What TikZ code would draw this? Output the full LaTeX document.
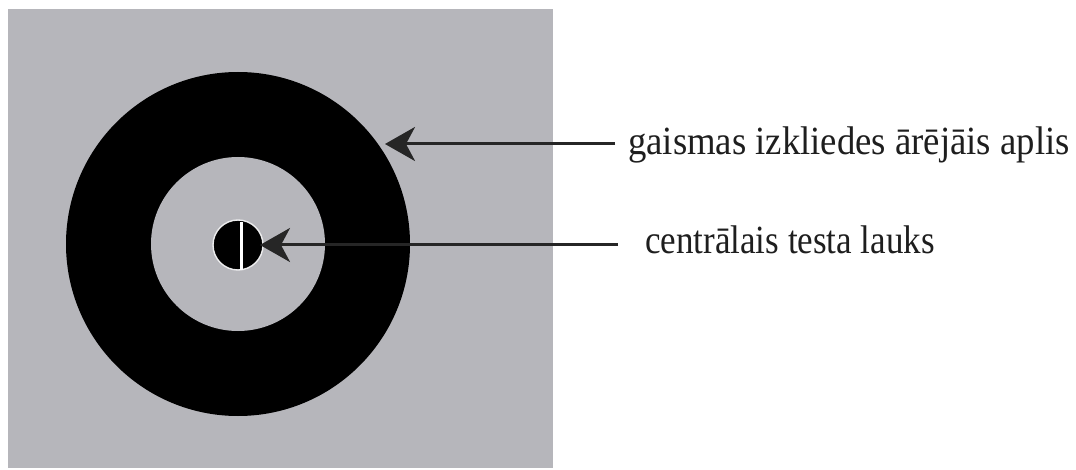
\documentclass[tikz,border=0pt]{standalone}
\usepackage{fontspec}
\setmainfont{Liberation Serif}
\usetikzlibrary{arrows.meta}
\definecolor{bggray}{RGB}{182,182,187}
\definecolor{arrowcol}{RGB}{38,38,38}
\definecolor{textcol}{RGB}{30,30,30}
\tikzset{
  pointer/.style={line width=3pt, draw=arrowcol, -{Stealth[length=30pt,width=34pt,inset=9pt]}},
  label/.style={anchor=base west, inner sep=0pt, text=textcol, font=\fontsize{40}{44}\selectfont}
}
\begin{document}
\begin{tikzpicture}[x=1pt,y=-1pt]
\useasboundingbox (0,0) rectangle (1076,470);
\fill[white] (0,0) rectangle (1076,470);
% gray field
\fill[bggray] (8,9) rectangle (553,468);
% outer ring
\fill[black] (238,244) circle[radius=172];
\fill[bggray] (238,244) circle[radius=87];
% central test field
\fill[black, draw=white!75!bggray, line width=1.4pt] (238,245) circle[radius=25];
\fill[white] (239.5,222) rectangle (243,270);
% labels
\node[label] (t1) at (628,155) {\scalebox{0.918}[1]{gaismas izkliedes ārējāis aplis}};
\node[label] (t2) at (645,254) {\scalebox{0.875}[1]{centrālais testa lauks}};
\coordinate (s1) at (615,144);
\coordinate (e1) at (385,144);
\coordinate (s2) at (618,245);
\coordinate (e2) at (260,245);
\draw[pointer] (s1) -- (e1);
\draw[pointer] (s2) -- (e2);
\end{tikzpicture}
\end{document}
